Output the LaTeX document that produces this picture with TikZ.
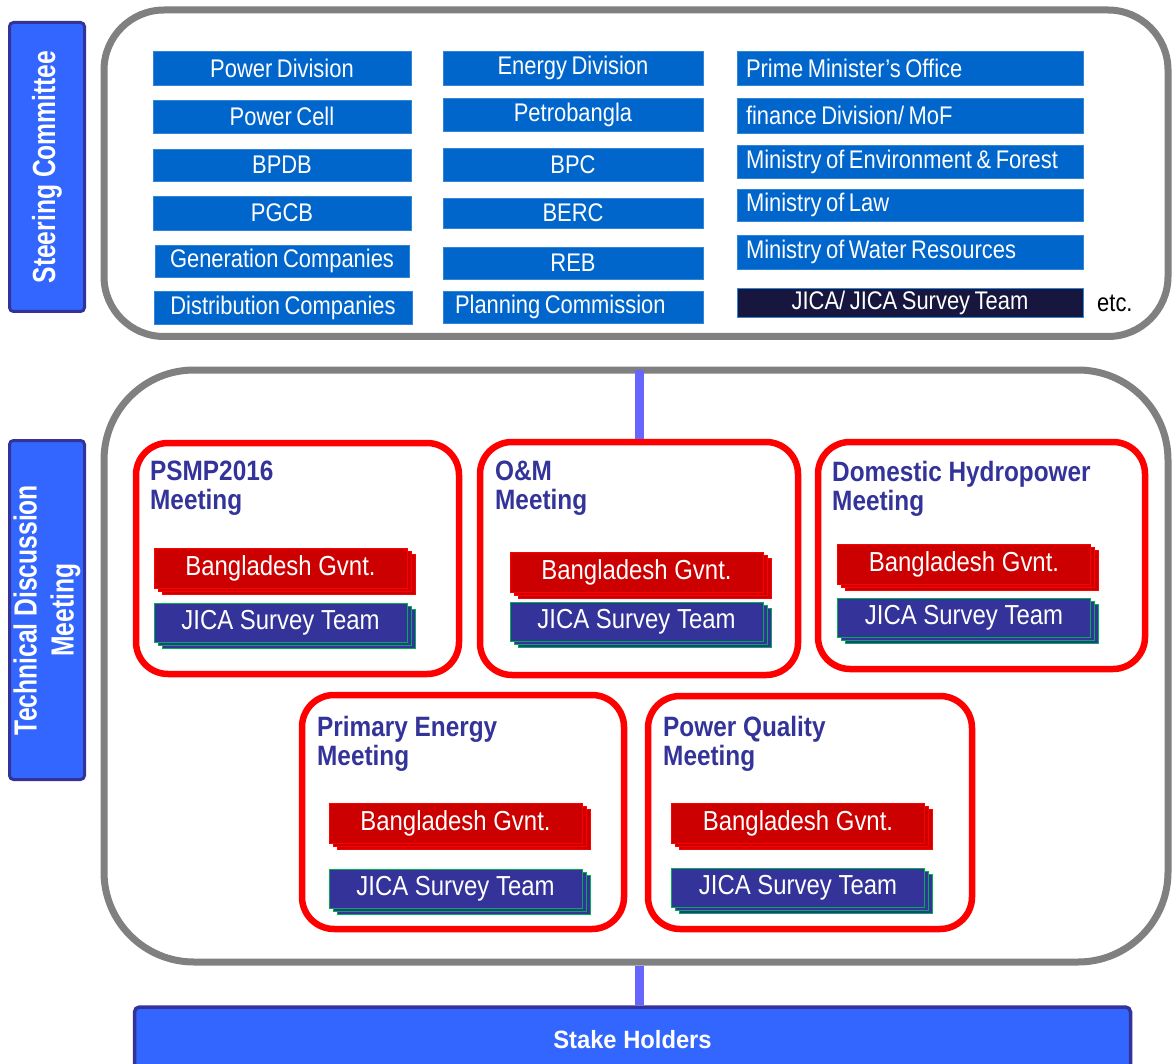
\documentclass[tikz,border=0pt]{standalone}
\usepackage{fontspec}
\setmainfont{Liberation Sans}
\newfontfamily\boxfont{Liberation Sans}[FakeStretch=0.86, WordSpace=0.75]
\newfontfamily\meetfont{Liberation Sans}[FakeStretch=0.87]
\newfontfamily\rotfont{Liberation Sans}[FakeStretch=0.77]
\newfontfamily\stakefont{Liberation Sans}[FakeStretch=0.95]
\definecolor{boxblue}{HTML}{0066CC}
\definecolor{boxedge}{HTML}{3385D6}
\definecolor{navy}{HTML}{16163F}
\definecolor{greyline}{HTML}{808080}
\definecolor{sideblue}{HTML}{3366FF}
\definecolor{sideedge}{HTML}{333399}
\definecolor{govred}{HTML}{CC0000}
\definecolor{govedge}{HTML}{FF0000}
\definecolor{jicablue}{HTML}{333399}
\definecolor{jicaedge}{HTML}{00B050}
\definecolor{titleblue}{HTML}{333399}
\definecolor{connblue}{HTML}{6666FF}
\tikzset{
  greybox/.style={draw=greyline, line width=7pt, inner sep=0pt},
  orgbox/.style={fill=boxblue, draw=boxedge, line width=0.8pt, text=white,
    font={\boxfont\fontsize{25.5}{29}\selectfont}, inner sep=0pt},
  col1/.style={orgbox, minimum width=258pt},
  col2/.style={orgbox, minimum width=260pt},
  leftin/.style={execute at begin node={\hbox to #1\bgroup},
    execute at end node={\hfil\egroup}},
  col3/.style={orgbox, minimum width=346pt, leftin=328pt},
  sidelabel/.style={fill=sideblue, draw=sideedge, line width=3pt, rounded corners=4pt,
    rotate=90, text=white, font={\rotfont\bfseries\fontsize{32}{37}\selectfont},
    align=center, inner sep=0pt},
  meetbox/.style={draw=govedge, line width=6.5pt, rounded corners=32pt, inner sep=0pt},
  meettitle/.style={anchor=north west, inner sep=0pt, align=left, text=titleblue,
    font={\meetfont\bfseries\fontsize{28}{29}\selectfont}},
  govbox/.style={fill=govred, draw=govedge, line width=1pt, minimum width=253pt,
    minimum height=40pt, text=white, inner sep=0pt,
    font={\meetfont\fontsize{27.5}{30}\selectfont}},
  jicabox/.style={fill=jicablue, draw=jicaedge, line width=1pt, minimum width=253pt,
    minimum height=39pt, text=white, inner sep=0pt,
    font={\meetfont\fontsize{27.5}{30}\selectfont}},
  conn/.style={draw=connblue, line width=9pt},
}
\newcommand\stackbox[5]{%
  \node[#2] (#1-c) at ({#3+8},{#4+6}) {};
  \node[#2] (#1-b) at ({#3+4},{#4+3}) {};
  \node[#2] (#1) at (#3,#4) {#5};
}
\begin{document}
\begin{tikzpicture}[x=1pt,y=-1pt]
\useasboundingbox (0,0) rectangle (1172,1064);

% side labels
\node[sidelabel, minimum width=289pt, minimum height=75pt] (sc) at (47,167) {Steering Committee};
\node[sidelabel, minimum width=339pt, minimum height=75pt] (tdlabel) at (47,610) {Technical Discussion\\Meeting};

% grey containers
\node[greybox, rounded corners=60pt, minimum width=1064pt, minimum height=326.5pt] (steer) at (636,173.25) {};
\node[greybox, rounded corners=90pt, minimum width=1064pt, minimum height=592pt] (tdm) at (636,666) {};

% column 1
\node[col1, minimum height=34pt] (pd) at (282,68) {Power Division};
\node[col1, minimum height=33pt] (pc) at (282,116.5) {Power Cell};
\node[col1, minimum height=32pt] (bpdb) at (282,165) {BPDB};
\node[col1, minimum height=34pt] (pgcb) at (282,213) {PGCB};
\node[col1, minimum width=254pt, minimum height=32pt] (gen) at (282,261) {Generation Companies};
\node[col1, minimum height=33pt] (dist) at (283,307.5) {Distribution Companies};

% column 2
\node[col2, minimum height=34pt] (ed) at (573,68) {Energy Division};
\node[col2, minimum height=33pt] (petro) at (573,114.5) {Petrobangla};
\node[col2, minimum height=33pt] (bpc) at (573,164.5) {BPC};
\node[col2, minimum height=30pt] (berc) at (573,213) {BERC};
\node[col2, minimum height=32pt] (reb) at (573,263) {REB};
\node[col2, minimum height=32pt, leftin=236pt] (plan) at (573,307) {Planning Commission};

% column 3
\node[col3, minimum height=34pt] (pmo) at (910,68) {Prime Minister’s Office};
\node[col3, minimum height=35pt] (fin) at (910,115.5) {finance Division/ MoF};
\node[col3, minimum height=33pt] (moef) at (910,161.5) {Ministry of Environment \& Forest};
\node[col3, minimum height=32pt] (law) at (910,205) {Ministry of Law};
\node[col3, minimum height=34pt] (water) at (910,252) {Ministry of Water Resources};
\node[orgbox, fill=navy, draw=boxedge, minimum width=346pt, minimum height=29pt] (jica) at (910,302.5) {JICA/ JICA Survey Team};
\node[anchor=base west, inner sep=0pt, font={\boxfont\fontsize{25.5}{29}\selectfont}] (etc) at (1097,312) {etc.};

% meeting boxes
\node[meetbox, minimum width=323pt, minimum height=231pt] (psmp) at (297.5,558.5) {};
\node[meetbox, minimum width=318pt, minimum height=233pt] (om) at (639,558.5) {};
\node[meetbox, minimum width=327pt, minimum height=227pt] (dom) at (981.5,555.5) {};
\node[meetbox, minimum width=322pt, minimum height=234pt] (prim) at (463,812) {};
\node[meetbox, minimum width=324pt, minimum height=233pt] (pq) at (810,812.5) {};

\node[meettitle] (psmpt) at (150,461) {PSMP2016\\Meeting};
\node[meettitle] (omt) at (495,461) {O\&M\\Meeting};
\node[meettitle] (domt) at (832,461) {Domestic Hydropower\\Meeting};
\node[meettitle] (primt) at (317,716) {Primary Energy\\Meeting};
\node[meettitle] (pqt) at (663,716) {Power Quality\\Meeting};

\stackbox{psmpg}{govbox}{280.5}{568.5}{Bangladesh Gvnt.}
\stackbox{psmpj}{jicabox}{280.5}{622.5}{JICA Survey Team}
\stackbox{omg}{govbox}{636.5}{572}{Bangladesh Gvnt.}
\stackbox{omj}{jicabox}{636.5}{622}{JICA Survey Team}
\stackbox{domg}{govbox}{964}{564}{Bangladesh Gvnt.}
\stackbox{domj}{jicabox}{964}{617.5}{JICA Survey Team}
\stackbox{primg}{govbox}{455.5}{823}{Bangladesh Gvnt.}
\stackbox{primj}{jicabox}{455.5}{889}{JICA Survey Team}
\stackbox{pqg}{govbox}{798}{823}{Bangladesh Gvnt.}
\stackbox{pqj}{jicabox}{798}{888}{JICA Survey Team}

% stake holders
\node[fill=sideblue, draw=sideedge, line width=3.5pt, rounded corners=5pt,
  minimum width=996pt, minimum height=66pt, text=white, inner sep=0pt,
  font={\stakefont\bfseries\fontsize{25}{28}\selectfont}] (stake) at (632.5,1040) {Stake Holders};

% connectors
\draw[conn] (om.north |- tdm.north) ++(0,3.5) -- (om.north);
\draw[conn] (om.north |- tdm.south) -- (om.north |- stake.north);
\end{tikzpicture}
\end{document}
